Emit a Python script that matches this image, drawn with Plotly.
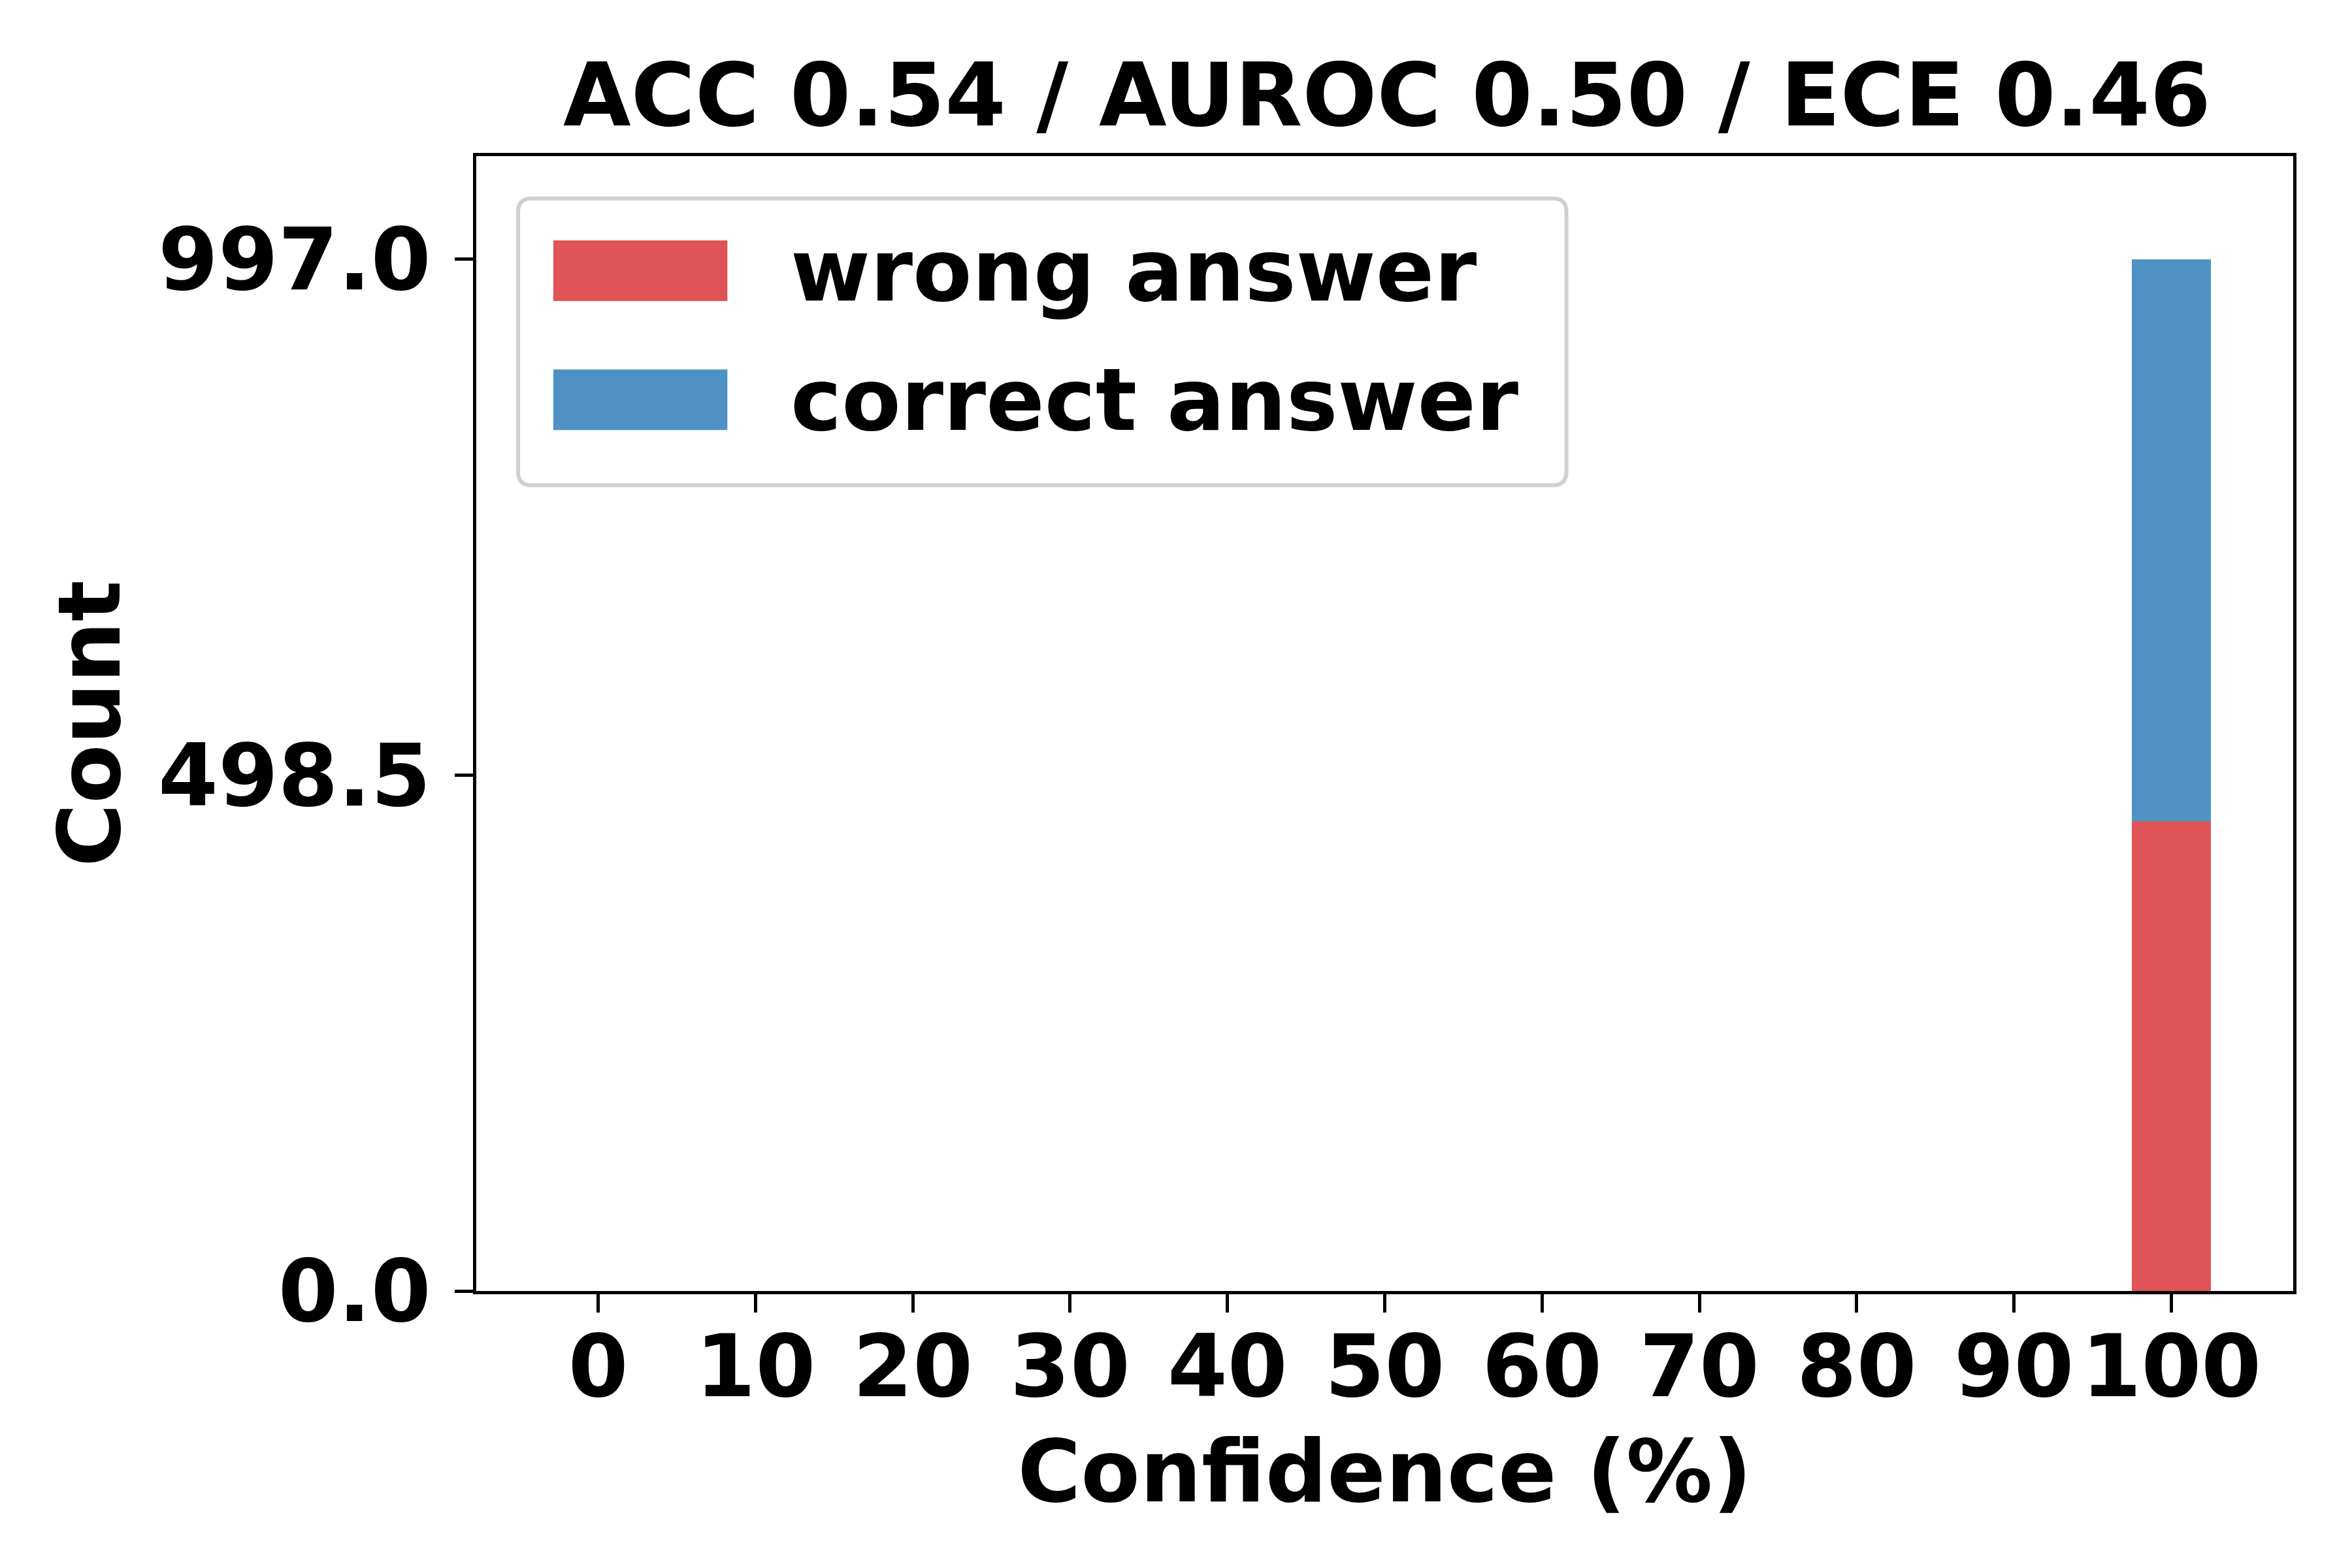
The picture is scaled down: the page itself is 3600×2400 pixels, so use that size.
import plotly.graph_objects as go

# confidence histogram (bins of 10%), counts
confidence_bins = [0, 10, 20, 30, 40, 50, 60, 70, 80, 90, 100]
wrong_counts = [0, 0, 0, 0, 0, 0, 0, 0, 0, 0, 454]
correct_counts = [0, 0, 0, 0, 0, 0, 0, 0, 0, 0, 543]
series_names = ["wrong answer", "correct answer"]
series_colors = ["#E05356", "#4E92C4"]
title_text = "ACC 0.54 / AUROC 0.50 / ECE 0.46"

total = [w + c for w, c in zip(wrong_counts, correct_counts)]
max_count = max(total)
y_ticks = [0, max_count / 2, max_count]

FONT = "DejaVu Sans"
FS = 132

fig = go.Figure()
for name, vals, col in zip(series_names, [wrong_counts, correct_counts], series_colors):
    fig.add_trace(go.Bar(x=confidence_bins, y=vals, name=name, width=5,
                         marker=dict(color=col, line=dict(width=0)), showlegend=False))

fig.update_layout(
    barmode="stack",
    width=3600, height=2400,
    margin=dict(l=721, r=98, t=231, b=432),
    plot_bgcolor="white", paper_bgcolor="white",
    font=dict(family=FONT, size=FS, color="black", weight="bold"),
    title=dict(text=f"<b>{title_text}</b>", x=0.5875, xanchor="center",
               y=1 - 137 / 2400, yanchor="middle", yref="container",
               font=dict(family=FONT, size=134, color="black")),
)
fig.update_xaxes(
    range=[-7.75, 107.75], tickvals=confidence_bins, ticktext=[str(v) for v in confidence_bins],
    tickangle=0, ticks="outside", ticklen=28, tickwidth=5, tickcolor="black",
    showline=True, linewidth=5, linecolor="black", mirror=True, showgrid=False, zeroline=False,
    ticklabelstandoff=-30,
    title=dict(text="<b>Confidence (%)</b>", standoff=40, font=dict(family=FONT, size=FS)),
    tickfont=dict(family=FONT, size=FS, weight="bold"),
)
fig.update_yaxes(
    range=[0, max_count * 1.1], tickvals=y_ticks, ticktext=[f"{v:.1f}" for v in y_ticks],
    ticks="outside", ticklen=28, tickwidth=5, tickcolor="black",
    showline=True, linewidth=5, linecolor="black", mirror=True, showgrid=False, zeroline=False,
    ticklabelstandoff=10,
    title=dict(text="<b>Count</b>", standoff=15, font=dict(family=FONT, size=FS)),
    tickfont=dict(family=FONT, size=FS, weight="bold"),
)

# legend drawn by hand so the swatches are as large as the reference
x0, x1, yb, yt = 0.023, 0.600, 0.710, 0.9627
rx, ry = 0.0075, 0.012
path = (f"M {x0+rx},{yt} L {x1-rx},{yt} Q {x1},{yt} {x1},{yt-ry} "
        f"L {x1},{yb+ry} Q {x1},{yb} {x1-rx},{yb} L {x0+rx},{yb} "
        f"Q {x0},{yb} {x0},{yb+ry} L {x0},{yt-ry} Q {x0},{yt} {x0+rx},{yt} Z")
fig.add_shape(type="path", path=path, xref="paper", yref="paper",
              line=dict(color="#d0d0d0", width=6), fillcolor="white", layer="above")
for i, (name, col) in enumerate(zip(series_names, series_colors)):
    yc = 0.899 - i * 0.1137
    fig.add_shape(type="rect", xref="paper", yref="paper",
                  x0=0.0424, x1=0.1382, y0=yc - 0.0267, y1=yc + 0.0267,
                  fillcolor=col, line=dict(width=0), layer="above")
    fig.add_annotation(text=f"<b>{name}</b>", xref="paper", yref="paper",
                       x=0.1724, y=yc, xanchor="left", yanchor="middle",
                       showarrow=False, font=dict(family=FONT, size=FS, color="black"))

fig.write_html("out.html")
